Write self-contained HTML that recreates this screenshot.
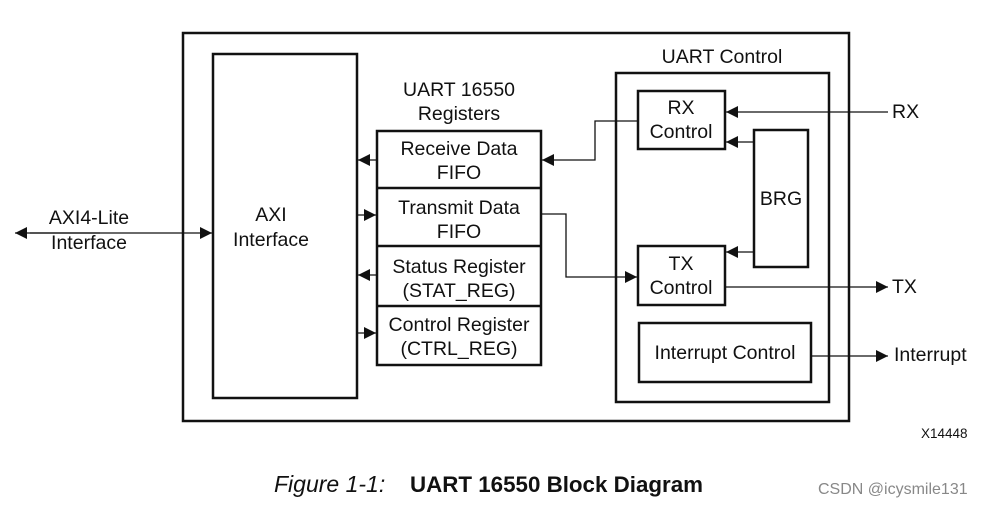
<!DOCTYPE html>
<html><head><meta charset="utf-8"><style>
html,body{margin:0;padding:0;background:#fff;width:984px;height:508px;overflow:hidden}
svg text{font-family:"Liberation Sans",sans-serif;fill:#111}
</style></head><body>
<svg width="984" height="508" viewBox="0 0 984 508" xmlns="http://www.w3.org/2000/svg">
<defs>
<marker id="a" viewBox="0 0 10 10" refX="10" refY="5" markerWidth="17" markerHeight="12" markerUnits="userSpaceOnUse" orient="auto"><path d="M0,0L10,5L0,10z" fill="#111"/></marker>
</defs>
<g fill="none" stroke="#111" stroke-width="2.5">
<rect x="183" y="33" width="666" height="388"/>
<rect x="213" y="54" width="144" height="344"/>
<rect x="377" y="131" width="164" height="234"/>
<line x1="377" y1="188" x2="541" y2="188"/>
<line x1="377" y1="246" x2="541" y2="246"/>
<line x1="377" y1="306" x2="541" y2="306"/>
<rect x="616" y="73" width="213" height="329"/>
<rect x="638" y="91" width="87" height="58"/>
<rect x="754" y="130" width="54" height="137"/>
<rect x="638" y="246" width="87" height="59"/>
<rect x="639" y="323" width="172" height="59"/>
</g>
<g fill="none" stroke="#111" stroke-width="1.3">
<line x1="888" y1="112" x2="726" y2="112" marker-end="url(#a)"/>
<line x1="754" y1="142" x2="726" y2="142" marker-end="url(#a)"/>
<line x1="754" y1="252" x2="726" y2="252" marker-end="url(#a)"/>
<line x1="725" y1="287" x2="888" y2="287" marker-end="url(#a)"/>
<line x1="811" y1="356" x2="888" y2="356" marker-end="url(#a)"/>
<polyline points="638,121 595,121 595,160 542,160" marker-end="url(#a)"/>
<polyline points="541,214 566,214 566,277 637,277" marker-end="url(#a)"/>
<line x1="377" y1="160" x2="358" y2="160" marker-end="url(#a)"/>
<line x1="357" y1="215" x2="376" y2="215" marker-end="url(#a)"/>
<line x1="377" y1="275" x2="358" y2="275" marker-end="url(#a)"/>
<line x1="357" y1="333" x2="376" y2="333" marker-end="url(#a)"/>
<line x1="30" y1="233" x2="212" y2="233" marker-end="url(#a)"/>
<line x1="100" y1="233" x2="15" y2="233" marker-end="url(#a)"/>
</g>
<g font-size="19.5" text-anchor="middle">
<text x="89" y="224">AXI4-Lite</text>
<text x="89" y="249">Interface</text>
<text x="271" y="221">AXI</text>
<text x="271" y="246">Interface</text>
<text x="459" y="96">UART 16550</text>
<text x="459" y="120">Registers</text>
<text x="459" y="155">Receive Data</text>
<text x="459" y="179">FIFO</text>
<text x="459" y="214">Transmit Data</text>
<text x="459" y="238">FIFO</text>
<text x="459" y="273">Status Register</text>
<text x="459" y="297">(STAT_REG)</text>
<text x="459" y="331">Control Register</text>
<text x="459" y="355">(CTRL_REG)</text>
<text x="722" y="63">UART Control</text>
<text x="681" y="114">RX</text>
<text x="681" y="138">Control</text>
<text x="781" y="205">BRG</text>
<text x="681" y="270">TX</text>
<text x="681" y="294">Control</text>
<text x="725" y="359">Interrupt Control</text>
</g>
<g font-size="19.5">
<text x="892" y="118">RX</text>
<text x="892" y="293">TX</text>
<text x="894" y="361">Interrupt</text>
</g>
<text x="921" y="438" font-size="13.5">X14448</text>
<text x="274" y="492" font-size="23" font-style="italic">Figure 1-1:</text>
<text x="410" y="492" font-size="22.5" font-weight="bold" textLength="293" lengthAdjust="spacingAndGlyphs">UART 16550 Block Diagram</text>
<text x="818" y="494" font-size="16" style="fill:#888">CSDN @icysmile131</text>
</svg>
</body></html>
